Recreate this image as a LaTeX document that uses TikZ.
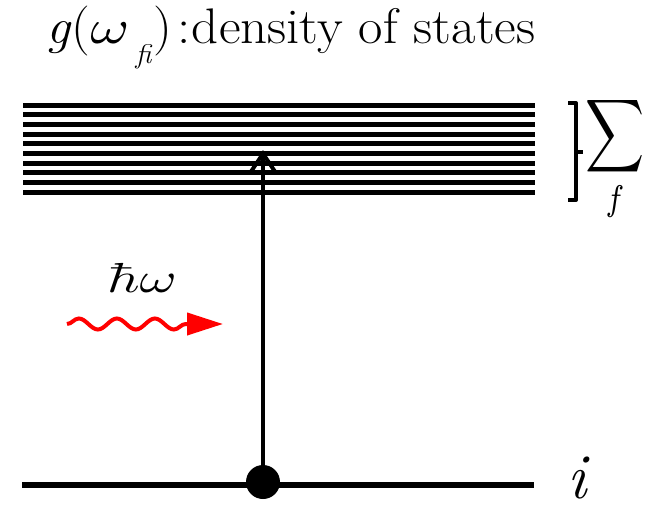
\documentclass[tikz,border=0pt]{standalone}
\usetikzlibrary{arrows.meta,decorations.pathmorphing}
\begin{document}
\begin{tikzpicture}[x=1pt,y=-1pt,
  level/.style={line width=5pt},
  ground/.style={line width=6pt},
  transition/.style={line width=4pt,-{Straight Barb[length=18pt,width=24pt]}},
  photon/.style={red,line width=4pt,-{Triangle[length=36pt,width=22pt]},
    decorate,decoration={snake,amplitude=5.5pt,segment length=38pt,post length=36pt}},
  bracket/.style={line width=4pt,line join=round}]
\useasboundingbox (0,0) rectangle (654,504);
% title
\node[anchor=base west,inner sep=0] (title) at (46,43)
  {\scalebox{1.06}[1]{\fontsize{50}{52}\selectfont\textit{g}(\scalebox{5.6}[4.8]{\normalsize$\omega$}\hspace{6pt}\raisebox{-20pt}{\fontsize{27}{27}\selectfont\textit{fi}}\hspace{1pt})\hspace{5pt}:\hspace{1pt}density of states}};
% final states
\foreach \k in {0,...,9}
  \draw[level] (23,{105.3+9.67*\k}) -- (535,{105.3+9.67*\k});
% bracket and sum
\draw[bracket] (568,103) -- (576,103) -- (576,200) -- (568,200);
\draw[bracket] (576,152) -- (583,152);
\node (sum) at (615,159) {\scalebox{4.1}[5.1]{$\displaystyle\sum_f$}};
% initial state
\draw[ground] (22,485) -- (534,485);
\node[circle,fill=black,minimum size=34pt,inner sep=0] (dot) at (263,482) {};
\coordinate (top) at (263,150);
\draw[transition] (dot.center) -- (top);
\node[anchor=base,inner sep=0] (ilabel) at (577,498) {\fontsize{64}{64}\selectfont\itshape i};
% photon
\node[anchor=base,inner sep=0] (hw) at (142,292) {\scalebox{5.67}[4.2]{$\hbar\omega$}};
\coordinate (ws) at (67,324);
\coordinate (we) at (223,324);
\draw[photon] (ws) -- (we);
\end{tikzpicture}
\end{document}
